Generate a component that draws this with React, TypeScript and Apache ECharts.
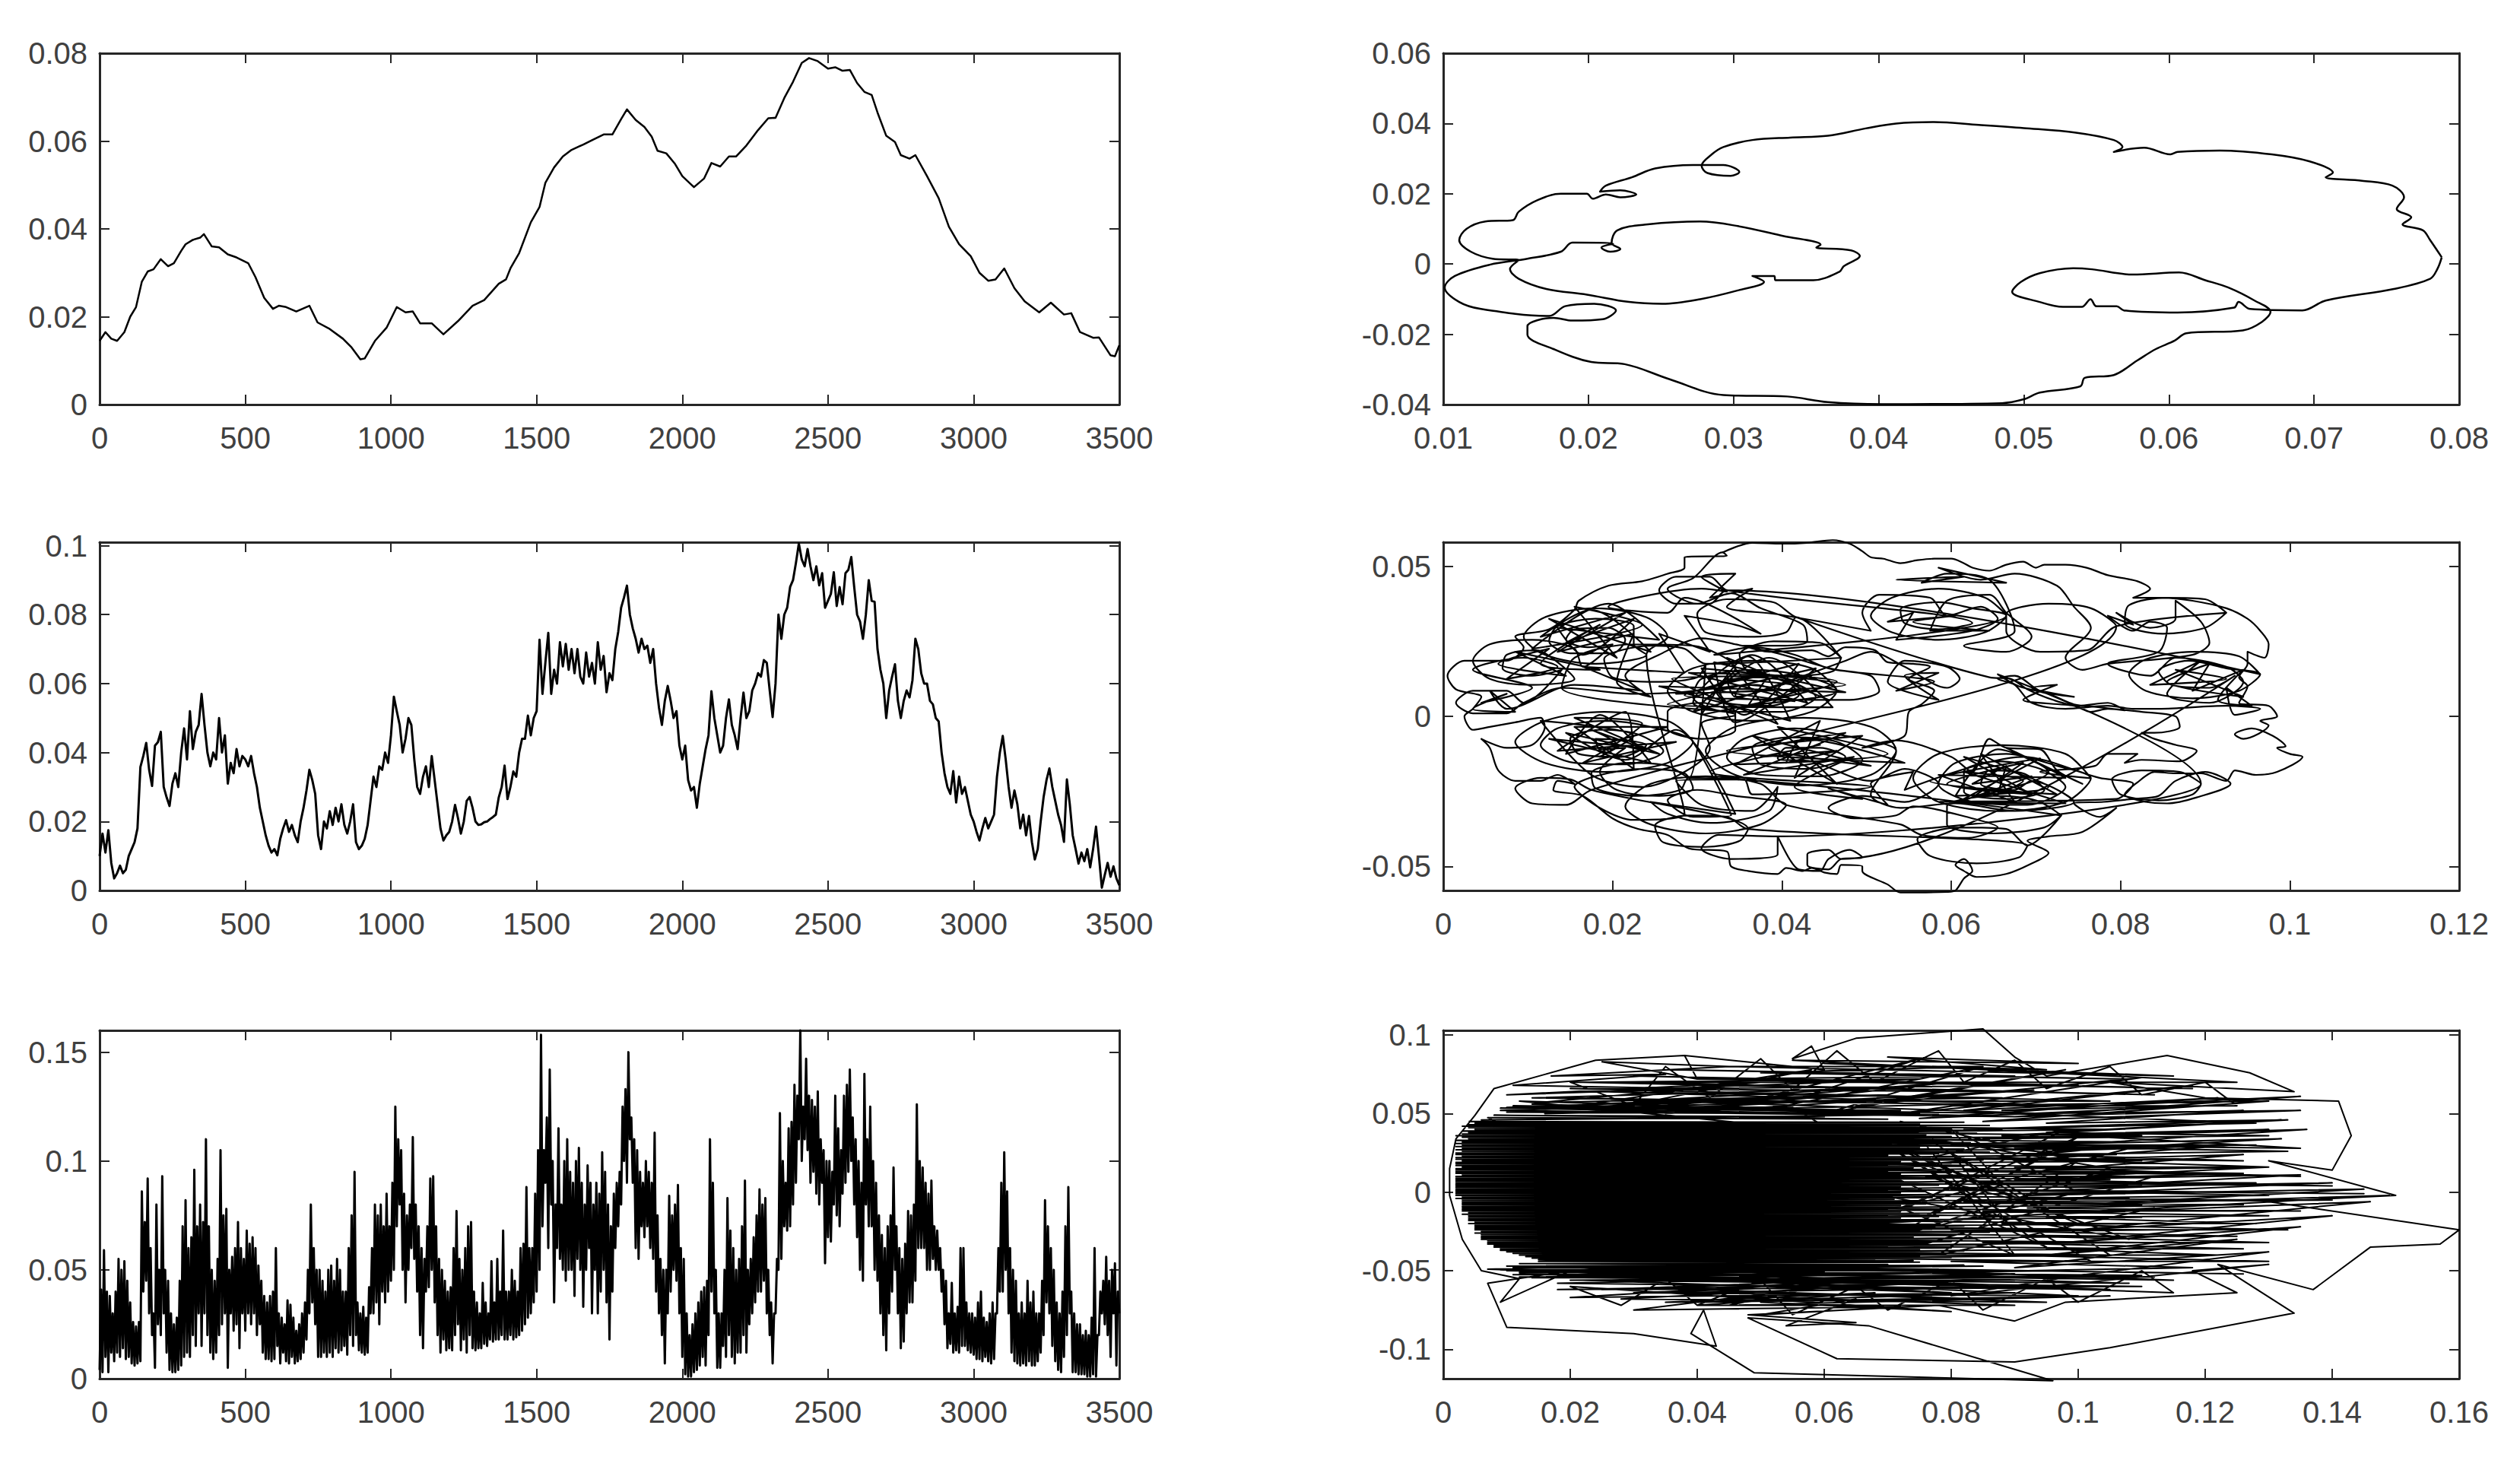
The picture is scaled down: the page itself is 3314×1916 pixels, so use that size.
import React, { useEffect, useRef } from "react";
import * as echarts from "echarts";

const timeTicks = [0, 500, 1000, 1500, 2000, 2500, 3000, 3500];
const y1Ticks = [0, 0.02, 0.04, 0.06, 0.08];
const y2Ticks = [0, 0.02, 0.04, 0.06, 0.08, 0.1];
const y3Ticks = [0, 0.05, 0.1, 0.15];
const px1Ticks = [0.01, 0.02, 0.03, 0.04, 0.05, 0.06, 0.07, 0.08];
const py1Ticks = [-0.04, -0.02, 0, 0.02, 0.04, 0.06];
const px2Ticks = [0, 0.02, 0.04, 0.06, 0.08, 0.1, 0.12];
const py2Ticks = [-0.05, 0, 0.05];
const px3Ticks = [0, 0.02, 0.04, 0.06, 0.08, 0.1, 0.12, 0.14, 0.16];
const py3Ticks = [-0.1, -0.05, 0, 0.05, 0.1];

// flat x,y lists
const series1 = [0,.0145,20,.0165,40,.015,60,.0145,85,.0165,105,.02,125,.0222,145,.028,165,.0303,185,.0308,210,.0331,235,.0315,255,.0322,280,.035,295,.0365,320,.0375,345,.038,358,.0388,385,.036,410,.0358,440,.0342,470,.0335,510,.0322,535,.029,565,.0243,595,.0218,615,.0225,640,.0222,675,.0212,720,.0225,748,.0187,790,.0172,835,.015,865,.013,895,.0103,910,.0105,945,.0145,985,.0175,1020,.0222,1050,.021,1075,.0212,1100,.0185,1140,.0185,1180,.016,1230,.019,1280,.0225,1320,.0238,1370,.0275,1395,.0285,1410,.031,1440,.0345,1480,.0415,1510,.045,1530,.0505,1560,.054,1590,.0565,1620,.058,1660,.0592,1690,.0602,1730,.0615,1760,.0615,1790,.065,1810,.0672,1840,.0648,1870,.0632,1895,.061,1915,.0578,1945,.0572,1975,.0548,2000,.052,2040,.0495,2075,.0515,2100,.055,2130,.0542,2160,.0565,2185,.0565,2220,.059,2260,.0625,2295,.0652,2320,.0653,2350,.0698,2380,.0735,2410,.0778,2435,.0789,2465,.0782,2500,.0765,2525,.0768,2550,.076,2575,.0762,2600,.0732,2625,.0712,2650,.0705,2670,.0665,2700,.0612,2730,.0598,2750,.0568,2780,.056,2800,.0568,2840,.052,2880,.047,2915,.0405,2950,.0365,2990,.0338,3020,.03,3050,.0282,3075,.0285,3105,.031,3140,.0265,3175,.0235,3225,.021,3265,.0232,3310,.0205,3335,.0208,3365,.0165,3410,.0152,3430,.0153,3470,.0112,3485,.011,3500,.0135];

// one value every 10 time steps
const series2 = [.01,.0165,.011,.0175,.008,.0035,.005,.0072,.005,.006,.01,.012,.014,.018,.0358,.039,.0428,.035,.0303,.042,
.043,.046,.03,.027,.0245,.031,.034,.03,.04,.047,.038,.052,.041,.046,.048,.057,.048,.04,.036,.04,
.038,.05,.04,.045,.031,.037,.034,.041,.036,.039,.038,.036,.039,.034,.03,.024,.02,.016,.013,.011,
.012,.0102,.015,.018,.0204,.017,.019,.016,.014,.02,.024,.029,.035,.032,.028,.016,.012,.02,.018,.023,
.019,.024,.02,.025,.019,.0165,.02,.025,.014,.012,.013,.015,.019,.026,.033,.03,.036,.035,.04,.037,
.045,.0562,.052,.048,.04,.044,.05,.048,.038,.03,.028,.033,.036,.03,.039,.032,.025,.018,.0145,.016,
.017,.02,.0248,.021,.0165,.02,.026,.0271,.024,.02,.019,.0192,.0198,.02,.0207,.0213,.022,.027,.03,.0362,
.0265,.03,.0345,.033,.04,.044,.044,.0507,.045,.05,.052,.0727,.057,.066,.0747,.057,.064,.06,.072,.065,
.0715,.064,.07,.063,.07,.062,.06,.069,.062,.066,.06,.072,.064,.068,.0575,.063,.061,.07,.075,.082,
.085,.0884,.08,.076,.073,.069,.073,.07,.071,.066,.07,.06,.053,.048,.055,.0593,.055,.05,.052,.042,
.038,.042,.032,.029,.03,.024,.031,.036,.041,.045,.0578,.05,.045,.04,.042,.05,.0554,.048,.045,.041,
.05,.0574,.05,.052,.058,.06,.063,.062,.0668,.066,.058,.0503,.06,.08,.073,.08,.082,.088,.09,.095,
.1006,.096,.094,.099,.094,.09,.094,.0885,.092,.082,.084,.086,.0923,.0825,.088,.083,.092,.093,.0967,.088,
.08,.078,.073,.08,.09,.084,.0837,.07,.064,.06,.05,.058,.062,.0656,.055,.05,.055,.058,.056,.061,
.073,.07,.063,.06,.06,.055,.054,.05,.049,.04,.034,.03,.028,.0346,.0255,.033,.028,.03,.026,.022,
.02,.017,.0145,.018,.021,.018,.02,.022,.033,.04,.0448,.038,.03,.024,.029,.025,.018,.022,.016,.0216,
.014,.009,.012,.02,.027,.032,.0354,.03,.026,.022,.019,.0141,.0322,.025,.016,.012,.0078,.011,.0085,.012,
.0067,.012,.0185,.01,.0008,.0045,.008,.004,.007,.0035,.0015];

// one value every 5 time steps
const series3 = [.004,.041,.003,.059,.01,.04,.003,.038,.012,.03,.008,.04,.012,.055,.01,.05,.014,.054,.009,.045,
.01,.035,.007,.026,.006,.024,.007,.026,.008,.086,.04,.072,.045,.092,.03,.06,.02,.03,.005,.08,
.025,.05,.02,.093,.03,.05,.012,.045,.004,.03,.003,.025,.003,.028,.004,.045,.006,.07,.01,.082,
.012,.06,.01,.065,.02,.096,.015,.07,.03,.08,.015,.072,.03,.11,.02,.07,.012,.05,.009,.045,
.012,.055,.02,.105,.025,.075,.03,.078,.005,.05,.03,.056,.022,.06,.025,.072,.014,.06,.03,.055,
.022,.068,.03,.062,.025,.065,.03,.06,.02,.052,.025,.045,.012,.038,.009,.035,.009,.038,.008,.04,
.009,.06,.015,.03,.007,.028,.012,.025,.008,.036,.007,.034,.01,.028,.007,.022,.008,.025,.009,.03,
.012,.035,.018,.05,.03,.08,.035,.06,.025,.05,.01,.05,.01,.045,.012,.04,.01,.05,.012,.052,
.01,.045,.014,.055,.012,.05,.013,.04,.015,.04,.011,.06,.02,.075,.015,.095,.02,.035,.013,.03,
.012,.033,.011,.028,.012,.042,.03,.06,.03,.08,.035,.075,.025,.08,.04,.07,.035,.085,.04,.07,
.045,.09,.05,.125,.07,.11,.08,.105,.05,.085,.035,.075,.05,.08,.06,.111,.055,.08,.04,.07,
.02,.06,.014,.055,.04,.07,.042,.092,.05,.093,.035,.07,.02,.055,.012,.05,.018,.045,.013,.04,
.014,.042,.013,.06,.02,.077,.025,.055,.013,.05,.018,.06,.012,.07,.02,.072,.014,.04,.013,.035,
.014,.03,.014,.044,.016,.035,.015,.03,.018,.054,.017,.035,.018,.055,.018,.04,.02,.068,.018,.04,
.018,.04,.02,.05,.018,.045,.019,.04,.02,.06,.022,.062,.025,.088,.028,.06,.03,.06,.035,.085,
.04,.105,.05,.158,.07,.105,.09,.12,.06,.142,.08,.1,.035,.08,.06,.115,.055,.08,.05,.1,
.045,.11,.05,.095,.05,.09,.038,.1,.055,.106,.05,.09,.033,.08,.05,.098,.06,.09,.03,.08,
.05,.09,.03,.085,.04,.104,.05,.095,.035,.08,.018,.07,.04,.085,.06,.09,.07,.095,.08,.125,
.1,.133,.09,.15,.11,.12,.09,.11,.06,.105,.055,.095,.07,.09,.065,.1,.07,.095,.06,.09,
.055,.113,.04,.075,.03,.055,.02,.05,.007,.05,.03,.084,.04,.075,.05,.08,.045,.089,.03,.06,
.01,.055,.002,.03,.001,.02,.001,.025,.003,.03,.004,.035,.006,.04,.01,.042,.006,.045,.02,.11,
.04,.09,.03,.05,.005,.03,.005,.03,.015,.05,.01,.083,.02,.068,.01,.06,.007,.05,.012,.055,
.012,.07,.02,.091,.012,.05,.025,.055,.03,.065,.035,.075,.04,.087,.04,.08,.045,.083,.03,.05,
.02,.035,.007,.03,.03,.055,.05,.122,.055,.1,.07,.09,.068,.115,.07,.118,.08,.135,.09,.13,
.11,.16,.1,.125,.11,.147,.105,.13,.09,.128,.095,.125,.085,.132,.08,.11,.09,.105,.053,.1,
.065,.1,.063,.095,.08,.13,.075,.115,.07,.105,.085,.13,.09,.135,.095,.142,.1,.12,.08,.11,
.065,.1,.05,.09,.045,.14,.08,.11,.07,.125,.07,.1,.05,.09,.045,.075,.03,.066,.02,.06,
.013,.07,.03,.075,.04,.097,.05,.07,.03,.06,.014,.055,.017,.062,.03,.077,.035,.075,.035,.08,
.045,.126,.06,.1,.06,.097,.06,.09,.05,.085,.05,.091,.055,.07,.05,.068,.05,.06,.04,.05,
.025,.045,.014,.03,.016,.044,.012,.03,.013,.033,.012,.06,.015,.06,.015,.035,.013,.03,.012,.03,
.011,.028,.009,.035,.009,.04,.008,.028,.01,.026,.008,.03,.007,.035,.009,.03,.03,.06,.04,.09,
.04,.104,.05,.086,.03,.06,.012,.05,.008,.045,.007,.03,.006,.035,.007,.03,.006,.045,.008,.035,
.006,.04,.006,.03,.008,.03,.012,.045,.02,.082,.035,.07,.03,.06,.015,.05,.008,.035,.004,.03,
.003,.04,.01,.07,.02,.088,.03,.04,.003,.03,.003,.025,.002,.025,.002,.02,.002,.022,.001,.02,
.001,.028,.002,.06,.001,.02,.02,.04,.03,.045,.025,.056,.02,.045,.01,.05,.03,.053,.006,.04,.03];

const phase1 = [.0788,.0019,.078,.0068,.0775,.0096,.0761,.0113,.0767,.0133,.0757,.0157,.0762,.019,.0754,.0223,.0733,.0237,.0708,.0247,.0713,.026,.0697,.0292,.0671,.0312,.0635,.0323,.0606,.0319,.0601,.0312,.0583,.0331,.0562,.0319,.0568,.0333,.0562,.0353,.0536,.0374,.05,.0387,.0469,.0396,.0438,.0404,.0412,.04,.0391,.0386,.0365,.0365,.0339,.036,.0313,.0353,.0293,.0333,.0285,.0312,.0278,.028,.0282,.0259,.0298,.0251,.0304,.0262,.0293,.0282,.0272,.0282,.0246,.0272,.023,.0247,.0212,.0223,.0208,.0206,.0222,.021,.0233,.0198,.0222,.019,.0212,.0198,.0203,.0186,.0199,.02,.0181,.02,.0165,.0182,.0152,.0149,.0148,.0125,.0129,.0121,.0116,.01,.0111,.0068,.0119,.0035,.0134,.0015,.0152,.0011,.0146,-.0014,.0152,-.0042,.0171,-.0071,.0199,-.0087,.0228,-.0108,.0251,-.0113,.0277,-.01,.0303,-.0075,.0321,-.0051,.0313,-.0034,.0328,-.0034,.0329,-.0046,.0355,-.0046,.0373,-.0022,.0376,-.0006,.0387,.0023,.0381,.0039,.0357,.0047,.036,.0055,.0334,.008,.0303,.0108,.0277,.0121,.0241,.0113,.022,.0096,.0216,.006,.0222,.0043,.0215,.0035,.0209,.0047,.0217,.0058,.0189,.0061,.0181,.0035,.0158,.0015,.0132,-.0002,.0108,-.0034,.0101,-.0067,.0111,-.0108,.0126,-.0128,.0173,-.0148,.0184,-.012,.0204,-.0113,.0219,-.0132,.021,-.0157,.0189,-.0161,.0176,-.0153,.0158,-.0177,.0158,-.0201,.0176,-.0242,.0202,-.0279,.0225,-.0285,.0256,-.0328,.0293,-.0373,.0337,-.0377,.0365,-.0393,.0402,-.0399,.0485,-.0396,.05,-.0385,.0511,-.0366,.0539,-.0348,.0542,-.0324,.0562,-.0316,.0578,-.0275,.0591,-.0242,.0604,-.0218,.0612,-.0197,.0651,-.0189,.0664,-.0165,.067,-.0136,.0659,-.0104,.0641,-.0067,.0625,-.0046,.0607,-.0024,.0575,-.003,.0547,-.0015,.0534,-.0012,.0511,-.0026,.0498,-.0051,.0492,-.0079,.0511,-.0108,.0527,-.0122,.054,-.0122,.0546,-.01,.055,-.012,.0564,-.012,.0569,-.0132,.0606,-.0138,.0645,-.0124,.0648,-.0108,.0656,-.0128,.0692,-.0132,.0708,-.0104,.0755,-.0071,.078,-.0042,.0785,-.0014,.0788,.0019];

const phase2 = [.033,.0546,.0365,.0578,.04,.0575,.043,.0578,.046,.0587,.048,.0575,.0495,.055,.0505,.053,.052,.0525,.054,.051,.056,.052,.058,.0525,.06,.0525,.0615,.051,.0625,.0495,.0645,.0485,.0665,.0505,.0685,.0515,.07,.0495,.071,.0505,.0735,.0505,.076,.0495,.0785,.047,.082,.045,.0835,.0425,.0815,.0395,.085,.0395,.0885,.0385,.0925,.036,.095,.0325,.0965,.0285,.0975,.024,.097,.0195,.095,.0215,.095,.0175,.094,.013,.095,.01,.094,.0045,.0975,.0035,.0985,0,.0965,-.0015,.0975,-.003,.0945,-.0075,.0935,-.006,.0955,-.004,.098,-.0065,.0995,-.01,.0985,-.0105,.1,-.0125,.1015,-.0135,.0985,-.0185,.096,-.0195,.0935,-.018,.0925,-.0215,.0895,-.019,.0865,-.019,.084,-.0185,.082,-.022,.0805,-.026,.083,-.0285,.0855,-.029,.089,-.027,.093,-.0225,.09,-.0185,.0865,-.0215,.0845,-.0265,.0815,-.0275,.078,-.0285,.0745,-.029,.0775,-.0335,.0795,-.0305,.0755,-.0385,.0715,-.04,.069,-.0415,.0715,-.0455,.0695,-.049,.0665,-.0525,.063,-.0535,.0615,-.0515,.0605,-.0495,.0615,-.0475,.0625,-.0515,.0615,-.054,.0605,-.058,.0595,-.0585,.054,-.0587,.0525,-.056,.0495,-.0515,.0495,-.05,.047,-.0495,.0465,-.0525,.045,-.052,.0435,-.0505,.0425,-.0515,.0405,-.0505,.0395,-.0525,.036,-.0515,.034,-.05,.0335,-.045,.029,-.044,.0265,-.0395,.023,-.0375,.02,-.034,.0165,-.0265,.013,-.0245,.0135,-.0215,.0155,-.0225,.0135,-.0195,.0115,-.0215,.0085,-.0215,.0065,-.018,.0055,-.0105,.0045,-.0075,.0075,-.0105,.0105,-.0095,.012,-.0035,.0115,-.0005,.0085,-.002,.0055,-.0035,.0035,-.0045,.0025,0,.0035,.0025,.0045,.0065,.0015,.009,.0005,.0135,.0025,.0185,.0075,.0185,.0095,.023,.0085,.0265,.0125,.029,.0155,.0355,.016,.0385,.0195,.0435,.0235,.045,.0265,.0475,.0285,.0495,.0285,.053,.0335,.0535,.033,.0546,
.0295,.046,.0265,.0425,.03,.0375,.034,.041,.0375,.036,.0425,.0305,.043,.025,.0395,.0235,.0355,.0235,.0385,.0215,.0435,.022,.0455,.02,.0475,.023,.051,.022,.0525,.018,.0555,.0175,.0575,.0165,.055,.0125,.058,.0085,.0565,.004,.055,.0015,.0545,-.0065,.0495,-.0105,.0535,-.008,.06,-.0135,.0625,-.0185,.0645,-.0075,.0665,-.0105,.0705,-.011,.0725,-.018,.0755,-.0225,
.0665,-.0105,.0715,-.0185,.0625,-.027,.0685,-.0155,.0595,-.0225,.0695,-.026,.0615,-.0135,.0715,-.0235,.0605,-.0265,.0655,-.011,.0735,-.0205,.0585,-.0195,.0675,-.0285,.0635,-.0125,.0725,-.026,.0575,-.0215,.0705,-.014,.0605,-.029,.0695,-.02,.0625,-.0225,.0665,-.0165,.0655,-.026,.0685,-.0215,.0615,-.0185,.0735,-.029,.0585,-.0285,.0795,-.0275,.0815,-.0225,.0775,-.0205,
.0685,-.0135,.0545,-.0245,.0555,-.0185,.0505,-.0225,.0525,-.0295,.0455,-.024,.0495,-.0275,.0415,-.0235,.0485,-.0135,.0355,-.0195,.0475,-.0055,.0385,-.0105,.0505,-.0165,.0365,-.0065,.0465,-.0225,.0395,-.0035,.0525,-.0125,.0345,-.016,.0445,-.0015,.0415,-.0205,.0495,-.0065,.0335,-.0115,.0545,-.0155,.0425,-.0075,.0405,-.0155,.0465,-.0115,.0375,-.0135,.0445,-.0095,.0315,-.0185,.0505,-.0235,.0365,-.026,.0355,-.021,.0275,-.0215,.0305,-.0295,.0365,-.0315,.0395,-.0235,.0385,-.0315,.0315,-.0355,.0265,-.0325,.0245,-.0285,.0345,-.0325,
.0275,-.0045,.0215,-.0145,.0145,-.0055,.0255,-.0125,.0155,-.0005,.0235,-.0025,.0165,-.0155,.0275,-.0085,.0135,-.0115,.0215,.0015,.0225,-.0175,.0155,-.0035,.0265,-.0035,.0145,-.0125,.0185,.0005,.0245,-.0155,.0125,-.0075,.0235,-.0105,.0175,-.0045,.0205,-.0095,.0185,-.0135,.0225,-.0065,.0115,-.0015,.0175,-.0195,.0235,-.0235,.0285,-.0185,.0315,-.0105,.0305,-.0025,.0345,.0005,
.0295,.0045,.0365,.0204,.043,.0045,.029,.0145,.0465,.0115,.0305,.0005,.036,.02,.041,-.0015,.0255,.01,.0475,.008,.032,.018,.0345,-.002,.044,.016,.0265,.004,.046,.003,.0385,.0195,.0295,.0015,.0435,.0135,.027,.0125,.0395,-.0025,.0335,.0195,.0455,.0055,.0285,.007,.042,.0175,.0355,.0005,.0305,.016,.0475,.0105,.0275,.0075,.037,.0105,.0415,.005,.032,.0095,.0385,.014,.036,.0035,.0425,.0095,.0335,.0125,.0345,.0065,.0405,.0115,.0475,.0185,.0505,.0215,.0545,.0165,.0595,.0095,.061,.0125,.0595,.0165,.0545,.0185,.0525,.0115,.0585,.0055,.0545,.0135,.0585,.0145,.0535,.0085,.058,.0115,.0465,.0155,.0395,.021,.0345,.024,.0305,.026,.0255,.0205,.0215,.0135,.0245,.0065,.0205,.0115,
.0225,.0275,.0135,.0215,.0215,.0345,.0115,.0265,.0175,.0355,.0245,.0215,.0125,.0325,.0205,.0195,.0155,.0365,.0235,.0305,.0105,.0225,.0195,.0375,.0255,.0255,.0135,.0295,.0165,.0205,.0225,.0325,.0145,.0245,.0185,.0305,.0115,.0175,.0185,.0155,.0085,.0215,.0145,.0135,.0065,.0175,.0125,.0225,.0075,.0125,.0135,.0165,.0095,.0195,.0035,.0155,.0105,.0095,.0045,.0045,.0075,.0075,.0035,.0025,.0085,.0015,.0055,.0085,.0075,.0025,
.0155,.0105,.0235,.0085,.0165,.0165,.0285,.0145,.0255,.0275,.0315,.0215,.0285,.0335,.0345,.0305,.0375,.0275,.0285,.0395,.0265,.0345,.0195,.0365,.0305,.0425,.0335,.0415,.0305,.0465,.0345,.0475,.0315,.0395,.0365,.0425,.0335,.0365,.0395,.034,
.0505,.0285,.0495,.0345,.0515,.0405,.0575,.0395,.0595,.0335,.0635,.0365,.0655,.0325,.0625,.0285,.0535,.0255,.0555,.0345,.0525,.0315,.0605,.0335,.0555,.0315,.0645,.0285,.0575,.0285,.0595,.0385,.0645,.0405,.0665,.0345,.0695,.0265,.0665,.0215,.0615,.0235,.0675,.0285,.0645,.0455,.0595,.0475,.0565,.0445,.0615,.0465,.0535,.0455,.0665,.0445,.0585,.0495,.0635,.0455,.0675,.0475,.0725,.0435,.0745,.0365,.0765,.0295,.0735,.0195,.0755,.0155,.0785,.0175,.0885,.0205,.0905,.0245,.0895,.0315,.0865,.0385,.0865,.0325,.0835,.0295,.0795,.0345,.0815,.0305,.0785,.0335,.0815,.0285,.0835,.0315,.0855,.0295,.0845,.0215,.0785,.0175,
.0835,.0135,.0865,.0195,.0925,.0165,.0945,.0115,.0905,.0045,.0855,.0075,.0895,.0185,.0835,.0105,.0925,.0125,.0865,.0155,.0945,.0065,.0855,.0115,.0905,.0175,.0885,.0085,.0945,.0155,.0915,.0055,.0955,.0035,.0925,.0095,.0935,.0005,.0965,.0025,.0925,.0035,.0845,.0025,.0815,.0025,.0785,.0035,.0735,.0025,.0695,.0045,.0675,.0105,.0655,.0125,.0675,.0135,.0705,.0085,.0745,.0065,.0695,.0095,.0725,.0105,.0685,.0055,.0745,.0035,.0765,.0015,.0785,.0025,.0825,.0015,.0865,0,.087,-.0035,.084,-.0055,.0825,-.0055,.084,-.0075,.0865,-.0095,.089,-.0115,.087,-.015,.0825,-.0145,.0805,-.0155,.082,-.0125,.0785,-.0125,.077,-.0165,.0705,-.0185];

const phase2Rings = [.0765,-.0206,.0735,-.0125,.066,-.0096,.0585,-.0125,.0555,-.0206,.0585,-.0285,.066,-.0316,.0735,-.0285,.0765,-.0206,
.0725,-.0165,.0665,-.0125,.0605,-.0155,.0585,-.0225,.0625,-.0285,.069,-.0295,.0735,-.0235,
.0705,-.0175,.0655,-.015,.0615,-.0185,.0615,-.025,.0665,-.0275,.071,-.0245,
.0685,-.019,.0645,-.018,.0635,-.0225,.0675,-.0245,.0695,-.0215,
.0745,-.0285,.0675,-.0315,.0605,-.029,.054,-.0305,.0505,-.026,
.0535,-.0115,.0505,-.0035,.0425,-.0005,.0345,-.0035,.031,-.0115,.0345,-.0195,.0425,-.023,.0505,-.0195,.0535,-.0115,
.0475,-.0065,.0415,-.004,.0355,-.0075,.0335,-.0135,.0375,-.0195,.0445,-.02,.0495,-.0145,
.0465,-.0085,.041,-.007,.0365,-.0105,.0375,-.016,.043,-.0175,.0475,-.0135,
.0445,-.0105,.0405,-.0105,.0395,-.014,.0435,-.015,
.0505,-.0215,.0545,-.0175,.0585,-.0225,.0545,-.0285,.0495,-.0265,.0455,-.0305,.0485,-.034,.0535,-.033,.0555,-.03,
.0625,-.034,.0655,-.037,.062,-.0405,.0565,-.0395,.054,-.036,
.0405,-.0295,.0375,-.0225,.031,-.02,.0245,-.0225,.0215,-.03,.0245,-.036,.031,-.039,.0375,-.036,.0405,-.0295,
.0345,-.0265,.03,-.0245,.0265,-.028,.0295,-.0335,.034,-.033,
.0295,-.0085,.0265,-.0015,.019,.0015,.012,-.0015,.0085,-.0085,.012,-.0155,.019,-.0185,.0265,-.0155,.0295,-.0085,
.0245,-.0035,.019,-.0015,.0135,-.004,.0115,-.0095,.0155,-.0155,.0215,-.016,.026,-.0115,
.023,-.006,.0185,-.0045,.015,-.0075,.016,-.0125,.021,-.0135,.024,-.0095,
.0215,-.008,.018,-.0075,.0185,-.011,.0215,-.0105,
.0185,-.0185,.0205,-.0245,.0255,-.0265,.0295,-.024,.0285,-.019,.0235,-.0175,
.0155,-.0235,.0185,-.0305,.0225,-.0345,.0285,-.0325,
.024,.0205,.0265,.0265,.024,.033,.018,.036,.012,.033,.0095,.0265,.012,.0205,.018,.0175,.024,.0205,
.0225,.024,.0225,.03,.018,.0325,.0135,.03,.0125,.025,.015,.021,.02,.021,
.0215,.0255,.0195,.0295,.0155,.029,.0145,.0255,.017,.023,.02,.024,
.0165,.0165,.0155,.0225,.0105,.0255,.0055,.024,.0035,.0185,.0055,.0125,.0105,.0105,.0155,.0125,
.0135,.018,.011,.022,.0075,.0205,.007,.016,.0105,.0135,.014,.0155,
.0095,.0045,.0075,.0085,.0035,.0085,.0015,.0045,.0035,.001,.0075,.001,.0095,.0045,
.014,.0095,.0225,.0075,.0315,.0095,.0345,.016,.0295,.0235,.0225,.024,.0155,.0195,.014,.0095,
.0345,.0015,.0305,.0045,.0265,.0015,.0265,-.004,.0305,-.0075,.0345,-.0045,.0345,.0015,
.0465,.0085,.0435,.016,.0365,.0185,.0295,.016,.0265,.0085,.0295,.0015,.0365,-.0015,.0435,.0015,.0465,.0085,
.0425,.0135,.0365,.0155,.0305,.0125,.0295,.0065,.0335,.0015,.04,.0015,.044,.0065,
.041,.0115,.036,.013,.032,.0095,.0335,.0045,.0385,.0035,.042,.007,
.039,.0095,.0355,.0105,.0345,.007,.0375,.0055,
.048,.0055,.0515,.0085,.0505,.0135,.0455,.016,.0415,.0205,.0365,.023,.032,.0205,
.0665,.0335,.064,.0395,.0585,.0425,.053,.0395,.0505,.0335,.053,.028,.0585,.0255,.064,.028,.0665,.0335,
.0625,.036,.0585,.038,.054,.0355,.0545,.031,.0585,.029,.0625,.031,
.0335,.042,.0315,.0465,.0275,.0465,.0255,.042,.0275,.0375,.0315,.0375,.0335,.042,
.0965,.014,.094,.02,.0885,.0215,.083,.019,.081,.014,.083,.0085,.0885,.006,.094,.0085,.0965,.014,
.0925,.016,.088,.0185,.0845,.015,.086,.0105,.0905,.0095,.0935,.0135,
.047,-.0475,.0455,-.0445,.043,-.046,.043,-.0495,.0455,-.051,.047,-.0475,.0495,-.047,.048,-.0445,.0455,-.0475,.0445,-.0515,.042,-.051,.041,-.048,
.0395,-.04,.0395,-.046,.034,-.0475,.0305,-.044,.0325,-.0395,.0395,-.04,
.0895,-.0225,.087,-.0185,.0825,-.018,.079,-.021,.08,-.026,.0845,-.028,.0885,-.026,.0895,-.0225,
.0655,.014,.068,.01,.0715,.0075,.0745,.004,.0775,.003,.0805,.002,.0785,.0045,.075,.0035,.072,.0055,.069,.009,.067,.0125,.0645,.013];

const phase2Lobes = [.0417,.033,.039,.038,.0335,.039,.03,.034,.031,.028,.036,.0265,.0405,.028,.0417,.033,
.047,.0195,.0445,.0245,.039,.025,.035,.0205,.036,.015,.041,.0135,.046,.015,.047,.0195,
.031,.0175,.0285,.0225,.0245,.0235,.019,.019,.02,.013,.025,.0115,.03,.013,.031,.0175,
.029,-.0205,.0265,-.0165,.022,-.0155,.0175,-.019,.018,-.024,.023,-.0265,.028,-.0245,.029,-.0205,
.073,-.033,.07,-.028,.065,-.0265,.0595,-.03,.0595,-.036,.065,-.039,.071,-.037,.073,-.033,
.069,-.043,.0665,-.0375,.061,-.037,.056,-.041,.0575,-.0465,.063,-.049,.068,-.047,.069,-.043,
.036,-.0375,.0335,-.0335,.029,-.033,.025,-.0365,.026,-.042,.031,-.0435,.035,-.0415,.036,-.0375,
.0175,-.0245,.015,-.021,.0115,-.0205,.0085,-.024,.0105,-.029,.0145,-.0295,.0175,-.0245,
.0795,.03,.0765,.036,.0715,.0375,.0665,.034,.0665,.0285,.0705,.0215,.076,.022,.0795,.03,
.0925,.0345,.09,.0295,.085,.0275,.0805,.031,.081,.037,.0855,.0395,.09,.039,.0925,.0345];

const phase3Core = [.004,.045,.082,.0445,.005,.044,.075,.0435,.004,.043,.086,.0425,.003,.042,.07,.0415,.004,.041,.08,.0405,.005,.04,.088,.0395,.003,.039,.072,.0385,.004,.038,.084,.0375,.003,.037,.076,.0365,.002,.036,.08,.0355,.003,.035,.07,.0345,.004,.034,.086,.0335,.002,.033,.078,.0325,.003,.032,.083,.0315,.002,.031,.07,.0305,.003,.03,.09,.0295,.002,.029,.075,.0285,.003,.028,.082,.0275,.002,.027,.072,.0265,.003,.026,.086,.0255,.002,.025,.078,.0245,.002,.024,.07,.0235,.003,.023,.082,.0225,.002,.022,.075,.0215,.002,.021,.085,.0205,.003,.02,.072,.0195,.002,.019,.08,.0185,.002,.018,.07,.0175,.002,.017,.082,.0165,.003,.016,.074,.0155,.002,.015,.076,.0145,.002,.014,.07,.0135,.002,.013,.08,.0125,.002,.012,.072,.0115,.003,.011,.076,.0105,.002,.01,.07,.0095,.002,.009,.078,.0085,.002,.008,.072,.0075,.002,.007,.075,.0065,.002,.006,.071,.0055,.002,.005,.078,.0045,.002,.004,.072,.0035,.002,.003,.074,.0025,.002,.002,.07,.0015,.002,.001,.076,.0005,.002,0,.072,-.0005,.002,-.001,.074,-.0015,.002,-.002,.07,-.0025,.003,-.003,.077,-.0035,.002,-.004,.071,-.0045,.003,-.005,.074,-.0055,.003,-.006,.07,-.0065,.003,-.007,.076,-.0075,.003,-.008,.072,-.0085,.003,-.009,.074,-.0095,.003,-.01,.07,-.0105,.003,-.011,.078,-.0115,.003,-.012,.072,-.0125,.004,-.013,.075,-.0135,.003,-.014,.07,-.0145,.004,-.015,.078,-.0155,.004,-.016,.072,-.0165,.004,-.017,.08,-.0175,.004,-.018,.074,-.0185,.005,-.019,.07,-.0195,.004,-.02,.078,-.0205,.005,-.021,.082,-.0215,.005,-.022,.072,-.0225,.005,-.023,.08,-.0235,.005,-.024,.075,-.0245,.006,-.025,.086,-.0255,.005,-.026,.07,-.0265,.006,-.027,.08,-.0275,.006,-.028,.074,-.0285,.006,-.029,.084,-.0295,.006,-.03,.072,-.0305,.007,-.031,.08,-.0315,.007,-.032,.076,-.0325,.007,-.033,.085,-.0335,.008,-.034,.07,-.0345,.008,-.035,.08,-.0355,.009,-.036,.075,-.0365,.009,-.037,.082,-.0375,.01,-.038,.07,-.0385,.011,-.039,.078,-.0395,.012,-.04,.075,-.0405,.013,-.041,.08,-.0415,.014,-.042,.068,-.0425,.015,-.043,.074,-.0435];

const phase3Gap = [.015,-.044,.075,-.0445,.012,-.0455,.07,-.046,.01,-.047,.082,-.0465,.011,-.048,.068,-.0485,.009,-.0495,.078,-.049,.012,-.051,.06,-.0505,.011,-.0525,.07,-.052,.014,-.0545,.055,-.054,
.007,.0475,.07,.0465,.008,.049,.06,.048,.006,.046,.078,.0495,.01,.051,.065,.05,.009,.0535,.072,.052,.011,.055,.055,.054];

const phase3Right = [.06,.042,.105,.04,.062,.038,.11,.036,.06,.034,.108,.032,.064,.03,.112,.028,.06,.026,.106,.024,.062,.022,.11,.02,.06,.018,.112,.016,.064,.014,.108,.012,.06,.01,.105,.008,.062,.006,.11,.004,.06,.002,.112,0,.064,-.002,.108,-.004,.06,-.006,.11,-.008,.062,-.01,.106,-.012,.06,-.014,.11,-.016,.064,-.018,.108,-.02,.06,-.022,.112,-.024,.062,-.026,.106,-.028,.06,-.03,.11,-.032,.064,-.034,.108,-.036,.06,-.038,.105,-.04,.062,-.042,.102,-.044,
.065,.04,.1,-.02,.07,.03,.095,-.035,.068,.015,.11,.03,.072,-.01,.1,.035,.07,-.03,.105,.015,.075,.035,.09,-.04,.066,0,.108,-.03,.074,.02,.098,.04,.068,-.02,.112,-.01,.078,-.04,.1,.02,.072,.045,.105,-.04,.07,-.04,.112,.01,.076,.01,.095,-.01,.08,.025,.09,-.025,.074,-.025,.1,0,.08,.04,.088,.005,.076,-.015,.096,.025];

const phase3Bands = [.012,.058,.075,.05,.014,.056,.09,.048,.009,.052,.06,.058,.016,.05,.082,.056,.02,.06,.095,.05,.01,.054,.07,.062,.022,.056,.088,.06,.025,.064,.1,.055,.014,.06,.066,.066,.03,.058,.105,.058,.02,.066,.085,.064,.03,.07,.112,.062,.022,.07,.075,.072,.035,.066,.1,.068,.03,.074,.118,.066,.04,.072,.09,.074,.036,.078,.108,.072,.05,.076,.085,.08,.045,.08,.115,.074,.06,.082,.095,.078,.07,.086,.1,.082,.055,.084,.125,.07,
.02,.07,.03,.055,.035,.08,.042,.06,.05,.085,.055,.065,.062,.09,.068,.07,.078,.09,.082,.07,.09,.084,.095,.066,.105,.08,.11,.062,.12,.07,.125,.055,
.08,.055,.13,.058,.085,.045,.135,.052,.09,.05,.128,.044,.082,.04,.132,.046,.095,.038,.13,.036,.085,.034,.136,.04,.09,.028,.128,.03,.08,.03,.133,.026,.092,.024,.126,.02,.084,.022,.13,.016,.09,.016,.135,.01,.082,.014,.126,.012,.092,.008,.14,.004,.085,.006,.128,.006,.095,.001,.145,-.001,.08,.002,.13,-.002,.09,-.004,.14,-.005,.082,-.006,.126,-.008,.092,-.01,.135,-.012,.085,-.012,.13,-.015,.095,-.016,.128,-.02,.088,-.02,.133,-.024,.08,-.024,.125,-.028,.092,-.028,.13,-.032,.085,-.032,.126,-.036,.095,-.036,.122,-.04,.088,-.04,.13,-.044,.08,-.044,.118,-.048,.092,-.05,.126,-.052,
.06,-.048,.115,-.056,.01,-.05,.098,-.05,.012,-.054,.108,-.058,.015,-.047,.09,-.056,.02,-.056,.112,-.054,.012,-.052,.085,-.06,.03,-.05,.105,-.062,.018,-.058,.09,-.052,.025,-.062,.11,-.06,.022,-.056,.08,-.064,.035,-.054,.1,-.066,.03,-.064,.075,-.058,.028,-.068,.095,-.07,.04,-.062,.085,-.068,.035,-.07,.068,-.064,.04,-.072,.09,-.072,.045,-.066,.07,-.074,.05,-.07,.08,-.076,
.02,-.06,.028,-.072,.035,-.055,.04,-.072,.05,-.056,.055,-.078,.065,-.06,.07,-.075,.08,-.056,.085,-.075,.095,-.055,.1,-.07,.11,-.05,.115,-.064];

const phase3Outer = [.007,-.049,.05,-.045,.012,-.051,.085,-.047,.02,-.048,.07,-.052,.012,-.054,.095,-.05,.025,-.056,.11,-.053,.03,-.05,.08,-.058,.018,-.062,.1,-.06,.035,-.064,.065,-.056,.02,-.067,.09,-.064,.04,-.07,.105,-.066,.045,-.072,.058,-.061,.03,-.075,.072,-.073,.05,-.078,.065,-.068,.054,-.085,.065,-.083,.048,-.078,.078,-.072,.09,-.082,.098,-.07,.125,-.064,.118,-.05,.13,-.046,.08,-.066,.1,-.053,.13,-.038,.09,-.048,.125,-.03,.095,-.04,.135,-.022,.098,-.032,.14,-.015,.1,-.024,.146,-.006,.095,-.014,.149,-.002,.1,-.008,.145,.002,.092,-.002,.14,.006,.098,.003,.135,.011,.09,.008,.13,.016,.095,.014,.126,.024,.09,.02,.125,.03,.095,.026,.132,.034,.09,.03,.135,.028,.1,.036,.13,.04,.088,.036,.133,.046,.095,.044,.126,.052,.09,.048,.135,.061,.088,.052,.12,.055,.075,.047,.122,.06,.082,.052,.118,.068,.072,.05,.11,.073,.065,.055,.098,.078,.06,.05,.085,.08,.05,.052,.075,.085,.045,.055,.093,.065,.035,.05,.08,.07,.025,.052,.058,.078,.02,.054,.07,.062,.015,.057,.05,.07,.01,.062,.04,.066,.011,.068,.035,.075,.017,.074,.045,.08,.025,.083,.04,.072,.038,.087,.06,.078,.058,.093,.055,.085,.065,.098,.085,.104,.09,.086,.095,.074,.114,.087,.127,.076,.134,.064,.105,.07,.12,.06,.141,.058,.143,.036,.14,.014,.13,.02,.15,-.002,.13,-.006,.16,-.024,.157,-.033,.146,-.035,.137,-.062,.122,-.046,.134,-.077,.105,-.099,.09,-.108,.062,-.106,.048,-.08,.067,-.085,.096,-.12,.049,-.115,.039,-.09,.041,-.075,.043,-.098,.03,-.09,.01,-.086,.007,-.058,.02,-.05,.009,-.07,.012,-.055,.006,-.05,.003,-.03,.001,-.002,.001,.015,.002,.034,.005,.049,.008,.066,.016,.075,.024,.084,.038,.087];

const FONT = "Liberation Sans";
const AXIS = "#262626";
const LABEL = "#404040";

function pairs(flat: number[]) {
  const out: number[][] = [];
  for (let i = 0; i + 1 < flat.length; i += 2) out.push([flat[i], flat[i + 1]]);
  return out;
}
const stepped = (vals: number[], step: number) => vals.map((v, i) => [i * step, v]);

const COLS = [{ left: 131, width: 1341 }, { left: 1898, width: 1336 }];
const ROWS = [{ top: 70, height: 462 }, { top: 713, height: 458 }, { top: 1355, height: 458 }];

const panels = [
  { c: 0, r: 0, data: pairs(series1), xr: [0, 3500], yr: [0, 0.08], xt: timeTicks, yt: y1Ticks, w: 2.5, smooth: 0 },
  { c: 0, r: 1, data: stepped(series2, 10), xr: [0, 3500], yr: [0, 0.101], xt: timeTicks, yt: y2Ticks, w: 3, smooth: 0 },
  { c: 0, r: 2, data: stepped(series3, 5), xr: [0, 3500], yr: [0, 0.16], xt: timeTicks, yt: y3Ticks, w: 3, smooth: 0 },
  { c: 1, r: 0, data: pairs(phase1), xr: [0.01, 0.08], yr: [-0.04, 0.06], xt: px1Ticks, yt: py1Ticks, w: 2.5, smooth: 0.35 },
  { c: 1, r: 1, data: pairs(phase2.concat(phase2Rings, phase2Lobes)), xr: [0, 0.12], yr: [-0.058, 0.058], xt: px2Ticks, yt: py2Ticks, w: 2.2, smooth: 0.3 },
  { c: 1, r: 2, data: pairs(phase3Core.concat(phase3Gap, phase3Right, phase3Bands, phase3Outer)), xr: [0, 0.16], yr: [-0.1187, 0.103], xt: px3Ticks, yt: py3Ticks, w: 2, smooth: 0 },
];

function axis(i: number, dim: "x" | "y", pos: string, range: number[], ticks: number[], labelled: boolean) {
  return {
    gridIndex: i,
    type: "value",
    position: pos,
    min: range[0],
    max: range[1],
    scale: true,
    splitLine: { show: false },
    axisLine: { show: true, onZero: false, lineStyle: { color: AXIS, width: 3 } },
    axisTick: { show: true, inside: true, length: 13, customValues: ticks, lineStyle: { color: AXIS, width: 2 } },
    axisLabel: {
      show: labelled,
      customValues: ticks,
      hideOverlap: false,
      margin: dim === "x" ? 24 : 16,
      color: LABEL,
      fontFamily: FONT,
      fontSize: 40,
      formatter: (v: number) => String(v),
    },
  };
}

export default function App() {
  const ref = useRef<HTMLDivElement>(null);
  useEffect(() => {
    const chart = echarts.init(ref.current!, undefined, { renderer: "svg" });
    chart.setOption({
      animation: false,
      backgroundColor: "#ffffff",
      grid: panels.map((p) => ({ ...COLS[p.c], ...ROWS[p.r], containLabel: false })),
      xAxis: panels.flatMap((p, i) => [
        axis(i, "x", "bottom", p.xr, p.xt, true),
        axis(i, "x", "top", p.xr, p.xt, false),
      ]),
      yAxis: panels.flatMap((p, i) => [
        axis(i, "y", "left", p.yr, p.yt, true),
        axis(i, "y", "right", p.yr, p.yt, false),
      ]),
      series: panels.map((p, i) => ({
        type: "line",
        xAxisIndex: i * 2,
        yAxisIndex: i * 2,
        data: p.data,
        showSymbol: false,
        symbol: "none",
        clip: false,
        silent: true,
        smooth: p.smooth,
        lineStyle: { color: "#000000", width: p.w, join: "round" },
      })),
    });
    return () => chart.dispose();
  }, []);
  return <div ref={ref} style={{ position: "fixed", left: 0, top: 0, width: 3314, height: 1916 }} />;
}
